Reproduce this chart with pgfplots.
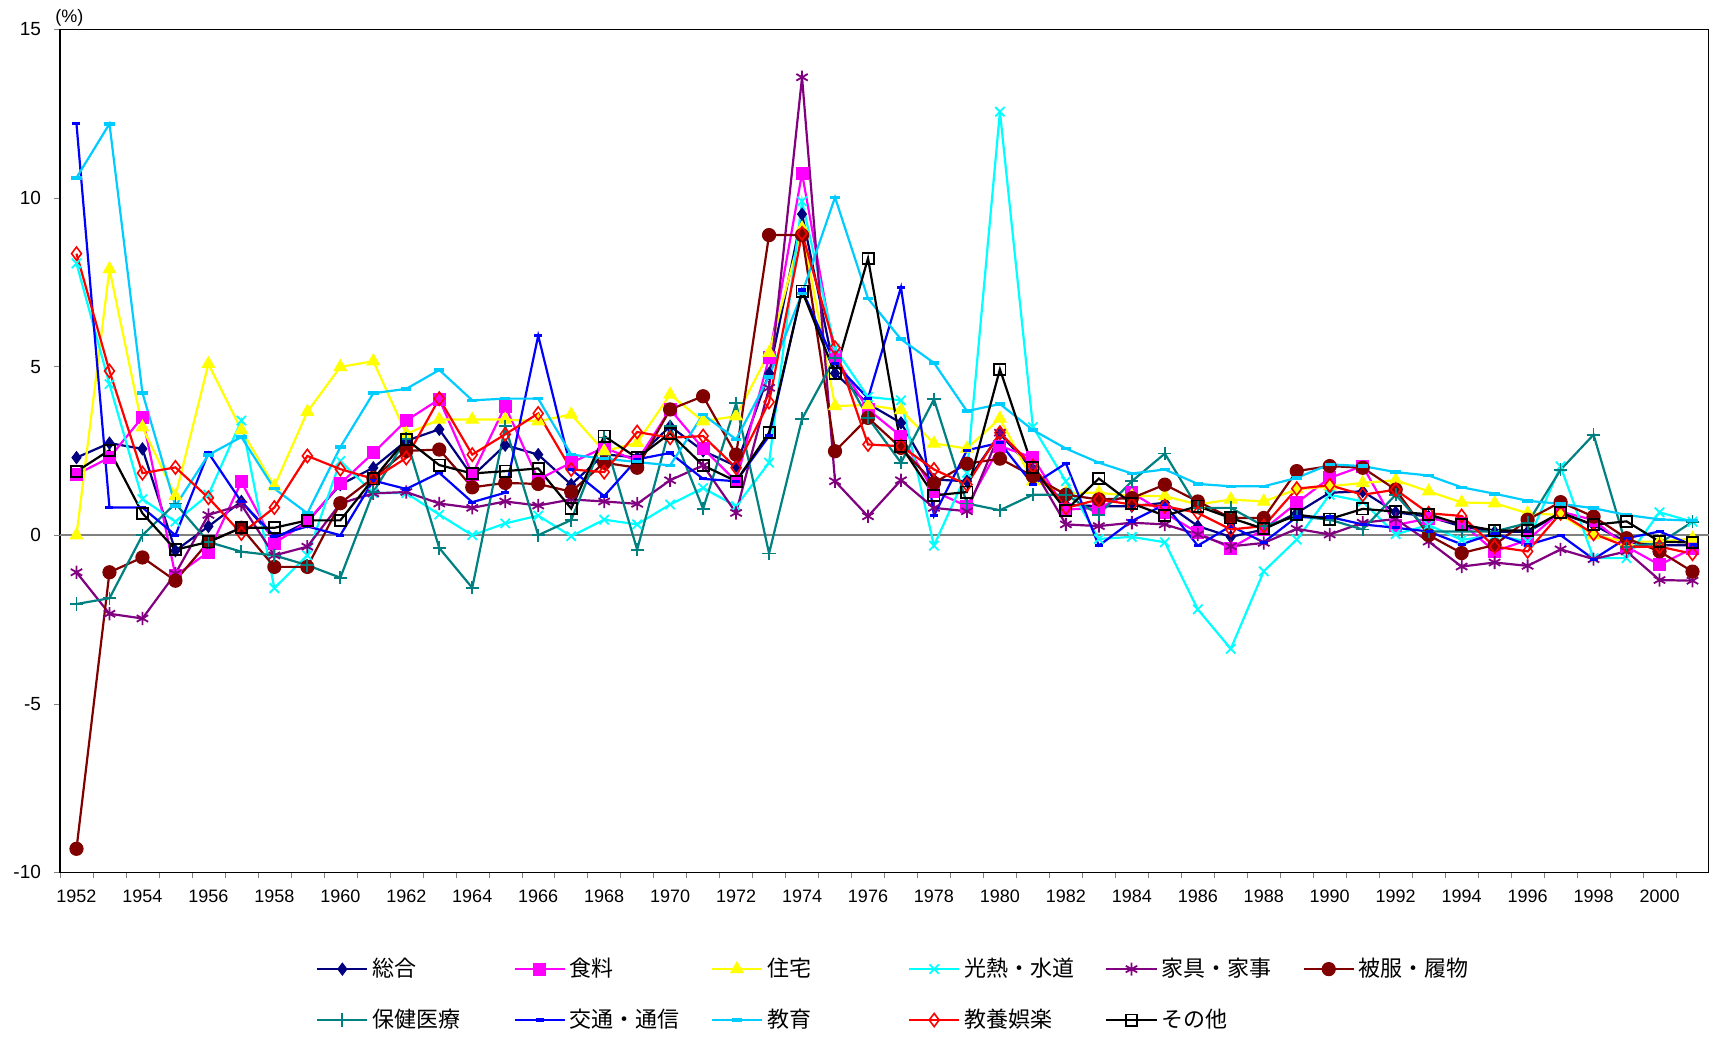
\documentclass[border=0pt]{standalone}
\usepackage{fontspec}
\setmainfont{Liberation Sans}
\newfontfamily\jp{Noto Sans CJK JP}
\usepackage{pgfplots}
\usepackage{pgfplotstable}
\pgfplotsset{compat=1.18}

\definecolor{cnavy}{HTML}{000080}
\definecolor{cmag}{HTML}{FF00FF}
\definecolor{cyel}{HTML}{FFFF00}
\definecolor{ccyan}{HTML}{00FFFF}
\definecolor{cpurp}{HTML}{800080}
\definecolor{cmaroon}{HTML}{800000}
\definecolor{cteal}{HTML}{008080}
\definecolor{cblue}{HTML}{0000FF}
\definecolor{csky}{HTML}{00CCFF}
\definecolor{cred}{HTML}{FF0000}

% annual change (%)
\pgfplotstableread{
year sogo  food  house fuel   furn  cloth med   trans edu   cult  other
1952 2.30  1.80  0.00  8.06  -1.10 -9.30 -2.04 12.20 10.60  8.35  1.89
1953 2.73  2.30  7.89  4.48  -2.33 -1.10 -1.87  0.82 12.20  4.87  2.52
1954 2.56  3.50  3.20  1.07  -2.47 -0.66  0.00  0.82  4.22  1.84  0.65
1955 -0.46 -1.20 1.16  0.40  -1.14 -1.35  0.94  0.00  0.87  2.01 -0.43
1956 0.26 -0.50  5.08  1.20   0.60 -0.20 -0.20  2.44  2.38  1.11 -0.20
1957 1.00  1.58  3.12  3.40   0.90  0.22 -0.49  0.99  2.91  0.05  0.22
1958 -0.10 -0.24 1.45 -1.57  -0.60 -0.94 -0.60 -0.03  1.38  0.82  0.22
1959 0.40  0.40  3.66 -0.60  -0.34 -0.94 -0.89  0.26  0.65  2.35  0.44
1960 1.50  1.53  4.99  2.20   0.94  0.95 -1.26  0.00  2.61  1.96  0.44
1961 2.00  2.44  5.16  1.25   1.24  1.70  1.28  1.62  4.21  1.67  1.67
1962 2.80  3.40  3.00  1.25   1.28  2.50  2.86  1.37  4.34  2.29  2.84
1963 3.14  4.03  3.43  0.61   0.94  2.54 -0.38  1.85  4.90  4.05  2.08
1964 1.75  1.80  3.43  0.00   0.81  1.42 -1.56  0.98  4.00  2.39  1.83
1965 2.67  3.83  3.43  0.35   1.00  1.55  3.23  1.26  4.05  2.99  1.90
1966 2.39  1.65  3.38  0.58   0.88  1.52  0.00  5.92  4.05  3.61  1.98
1967 1.50  2.15  3.58 -0.03   1.06  1.29  0.45  1.95  2.39  1.95  0.79
1968 2.40  2.60  2.49  0.46   1.00  2.15  2.90  1.16  2.27  1.87  2.94
1969 2.30  2.20  2.74  0.32   0.93  2.00 -0.43  2.25  2.17  3.06  2.29
1970 3.23  3.73  4.17  0.91   1.63  3.73  3.23  2.44  2.07  2.89  3.02
1971 2.50  2.57  3.38  1.40   2.07  4.12  0.78  1.67  3.58  2.94  2.07
1972 2.05  1.60  3.53  0.86   0.66  2.39  3.91  1.60  2.84  2.00  1.60
1973 4.80  5.26  5.41  2.15   4.37  8.90 -0.54  2.94  4.70  3.95  3.04
1974 9.52 10.73  9.10  9.90  13.58  8.90  3.45  7.27  7.17  8.95  7.24
1975 4.80  5.29  3.83  5.54   1.60  2.49  5.26  5.09 10.02  5.56  4.80
1976 3.90  3.73  3.86  4.10   0.56  3.48  3.48  4.06  7.02  2.69  8.21
1977 3.33  2.94  3.71  4.00   1.63  2.59  2.15  7.35  5.81  2.64  2.64
1978 1.65  1.30  2.72 -0.31   0.81  1.55  4.03  0.58  5.11  1.95  1.18
1979 1.60  0.86  2.57  1.85   0.71  2.12  0.94  2.52  3.68  1.50  1.28
1980 3.00  2.64  3.46 12.56   3.04  2.27  0.74  2.74  3.89  3.04  4.92
1981 1.95  2.30  1.60  3.21   2.00  1.75  1.20  1.50  3.12  2.05  2.00
1982 0.90  0.76  1.26  1.60   0.32  1.20  1.20  2.13  2.57  0.81  0.74
1983 0.86  0.81  1.26 -0.11   0.27  1.06  0.61 -0.31  2.15  1.06  1.68
1984 0.86  1.26  1.16 -0.05   0.37  1.10  1.60  0.42  1.83  0.91  0.94
1985 0.96  0.66  1.16 -0.21   0.32  1.50  2.42  0.91  1.95  0.86  0.58
1986 0.27  0.07  0.91 -2.20   0.02  1.00  0.81 -0.31  1.52  0.66  0.86
1987 -0.05 -0.38 1.06 -3.37  -0.33  0.51  0.81  0.27  1.45  0.17  0.51
1988 0.17  0.17  1.00 -1.07  -0.23  0.51  0.27 -0.21  1.45  0.27  0.19
1989 0.66  0.96  1.36 -0.13   0.19  1.90  0.56  0.54  1.70  1.38  0.61
1990 1.26  1.70  1.45  1.20   0.02  2.05  0.46  0.54  2.10  1.48  0.48
1991 1.30  2.05  1.55  1.00   0.37  2.00  0.17  0.32  2.05  1.20  0.78
1992 0.68  0.30  1.63  0.03   0.48  1.35  1.20  0.22  1.87  1.35  0.70
1993 0.55  0.50  1.30  0.30  -0.19  0.00  0.11  0.11  1.77  0.65  0.62
1994 0.26  0.36  0.97 -0.14  -0.93 -0.53  0.11 -0.27  1.42  0.57  0.31
1995 0.10 -0.48  0.95  0.00  -0.81 -0.29  0.11  0.06  1.23 -0.34  0.14
1996 0.10 -0.14  0.65 -0.19  -0.91  0.46  0.36 -0.29  1.02 -0.48  0.14
1997 0.65  0.70  0.60  2.04  -0.42  0.98  1.94  0.00  0.93  0.65  0.67
1998 0.30  0.45  0.00 -0.68  -0.71  0.55  2.98 -0.71  0.80  0.04  0.31
1999 -0.20 -0.34 -0.19 -0.68 -0.48 -0.09 -0.34 -0.09  0.60 -0.34  0.41
2000 -0.30 -0.88 -0.19 0.68  -1.33 -0.48 -0.24  0.11  0.47 -0.34 -0.19
2001 -0.30 -0.39 -0.10 0.40  -1.35 -1.08  0.40 -0.29  0.43 -0.55 -0.22
}\cpidata

\begin{document}
\begin{tikzpicture}
\path[use as bounding box] (-30pt,-82.5pt) rectangle (824.5pt,436.2pt);
\begin{axis}[
  at={(0,0)}, anchor=south west,
  width=824.5pt, height=421.5pt, scale only axis,
  xmin=1951.5, xmax=2001.5, ymin=-10, ymax=15,
  xtick={1952,1954,...,2000},
  minor xtick={1951.5,1952.5,...,2001.5},
  ytick={-10,-5,...,15},
  tick align=outside, tick pos=left,
  major tick length=3pt, minor tick length=3pt,
  major x tick style={draw=none},
  axis line style={line width=0.6pt},
  /pgf/number format/1000 sep={},
  /pgf/number format/assume math mode=true,
  x tick label style={font=\fontsize{9}{10}\selectfont, yshift=-2pt},
  y tick label style={font=\fontsize{9.5}{11}\selectfont, xshift=-3pt},
  extra y ticks={0}, extra y tick labels={},
  extra y tick style={grid=major, major grid style={draw=gray, line width=0.75pt}},
  every axis title shift=0pt,
  title={(\%)}, title style={at={(0,1)}, anchor=south west, inner sep=0pt,
    xshift=-2.5pt, yshift=1.5pt, font=\fontsize{9}{10}\selectfont},
  every axis plot/.append style={line width=1.1pt},
  legend columns=6,
  legend image code/.code={\draw[mark repeat=2,mark phase=2,#1]
    plot coordinates {(0cm,0cm) (0.44cm,0cm) (0.88cm,0cm)};},
  legend style={draw=none, fill=none,
    at={(axis description cs:0.1515,-0.092)}, anchor=north west,
    font=\jp\fontsize{11}{13}\selectfont, row sep=10.7pt,
    /tikz/every even column/.append style={text width=63.5pt, column sep=5pt}},
]
\addplot[cnavy, mark=diamond*, mark size=3pt, mark options={line width=0.5pt}]
  table[x=year, y=sogo]{\cpidata};
\addlegendentry{総合}
\addplot[cmag, mark=square*, mark size=3pt, mark options={line width=0.5pt}]
  table[x=year, y=food]{\cpidata};
\addlegendentry{食料}
\addplot[cyel, mark=triangle*, mark size=3.6pt, mark options={line width=0.5pt}]
  table[x=year, y=house]{\cpidata};
\addlegendentry{住宅}
\addplot[ccyan, mark=x, mark size=3.3pt, mark options={line width=0.9pt}]
  table[x=year, y=fuel]{\cpidata};
\addlegendentry{光熱・水道}
\addplot[cpurp, mark=asterisk, mark size=3.3pt, mark options={line width=0.9pt}]
  table[x=year, y=furn]{\cpidata};
\addlegendentry{家具・家事}
\addplot[cmaroon, mark=*, mark size=3.3pt, mark options={line width=0.5pt}]
  table[x=year, y=cloth]{\cpidata};
\addlegendentry{被服・履物}
\addplot[cteal, mark=+, mark size=3.3pt, mark options={line width=0.9pt}]
  table[x=year, y=med]{\cpidata};
\addlegendentry{保健医療}
\addplot[cblue, mark=-, mark size=2pt, mark options={line width=1.6pt}]
  table[x=year, y=trans]{\cpidata};
\addlegendentry{交通・通信}
\addplot[csky, mark=-, mark size=2.6pt, mark options={line width=1.8pt}]
  table[x=year, y=edu]{\cpidata};
\addlegendentry{教育}
\addplot[cred, mark=diamond, mark size=3.3pt, mark options={line width=0.8pt, fill=white}]
  table[x=year, y=cult]{\cpidata};
\addlegendentry{教養娯楽}
\addplot[black, mark=square, mark size=2.8pt, mark options={line width=0.9pt}]
  table[x=year, y=other]{\cpidata};
\addlegendentry{その他}
\end{axis}
\end{tikzpicture}
\end{document}
